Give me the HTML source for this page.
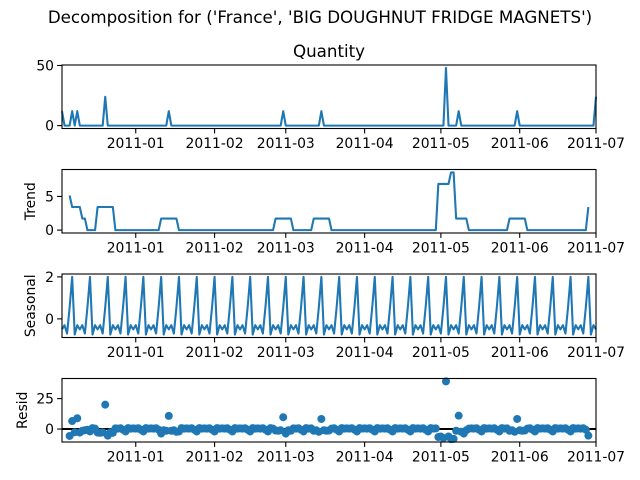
<!DOCTYPE html>
<html><head><meta charset="utf-8"><style>
html,body{margin:0;padding:0;background:#fff;}
svg{display:block;font-family:"DejaVu Sans","Liberation Sans",sans-serif;}
</style></head><body>
<svg id="chart" width="640" height="480" viewBox="0 0 640 480" xmlns="http://www.w3.org/2000/svg">
<text x="320" y="23" font-size="16.7" text-anchor="middle" fill="#000">Decomposition for ('France', 'BIG DOUGHNUT FRIDGE MAGNETS')</text>
<text x="329" y="57" font-size="16.7" text-anchor="middle" fill="#000">Quantity</text>
</svg>
<script>
// ---- data ----
const startDate = "2010-12-03";
const numDays = 211;
const spikeDays = [0, 4, 6, 17, 42, 87, 102, 151, 156, 179, 210];
const spikeValues = [12, 12, 12, 24, 12, 12, 12, 48, 12, 12, 24];
const seasonalPattern = [-0.5, -0.3, -0.7, 0.55, 2.0, -0.75, -0.3];
const monthTickDays = [29, 60, 88, 119, 149, 180, 210];
const monthTickLabels = ["2011-01","2011-02","2011-03","2011-04","2011-05","2011-06","2011-07"];
const panelNames = ["quantity","trend","seasonal","resid"];
const panelYLabels = ["", "Trend", "Seasonal", "Resid"];
const panelYTicks = [[0,50],[0,5],[0,2],[0,25]];

// ---- derived series (decomposition) ----
const observed = [];
for (let i = 0; i < numDays; i++) observed.push(0);
spikeDays.forEach((d, k) => { observed[d] = spikeValues[k]; });
const trend = observed.map((v, i) => {
  if (i < 3 || i > numDays - 4) return null;
  let s = 0; for (let j = i - 3; j <= i + 3; j++) s += observed[j]; return s / 7;
});
const seasonal = observed.map((v, i) => seasonalPattern[i % 7]);
const resid = observed.map((v, i) => trend[i] === null ? null : v - trend[i] - seasonal[i]);
const seriesList = [observed, trend, seasonal, resid];

// ---- layout ----
const NS = "http://www.w3.org/2000/svg";
const svg = document.getElementById("chart");
const L = 62, R = 596, H = 63.5;
const tops = [65, 169.5, 274, 378.5];
const xScale = d => L + (d / (numDays - 1)) * (R - L);
function mk(tag, attrs, parent) {
  const e = document.createElementNS(NS, tag);
  for (const k in attrs) e.setAttribute(k, attrs[k]);
  (parent || svg).appendChild(e);
  return e;
}

seriesList.forEach((ser, p) => {
  const vals = ser.filter(v => v !== null);
  let mn = Math.min(...vals), mx = Math.max(...vals);
  const m = (mx - mn) * 0.05; mn -= m; mx += m;
  const top = tops[p], bot = top + H;
  const yScale = v => bot - (v - mn) / (mx - mn) * H;
  const g = mk("g", {});
  
  

  if (p === 3) {
    const zl = mk("line", {x1: L, x2: R, y1: yScale(0), y2: yScale(0), stroke: "#000", "stroke-width": 2}, g);
    
    
    ser.forEach((v, i) => {
      if (v === null) return;
      const c = mk("circle", {cx: xScale(i), cy: yScale(v), r: 4, fill: "#1f77b4"}, g);
      
      
    });
  } else {
    let d = "";
    ser.forEach((v, i) => {
      if (v === null) return;
      d += (d ? "L" : "M") + xScale(i).toFixed(2) + "," + yScale(v).toFixed(2);
    });
    const path = mk("path", {d: d, fill: "none", stroke: "#1f77b4", "stroke-width": 2.08, "stroke-linejoin": "round"}, g);
    
    
  }

  const frame = mk("rect", {x: L, y: top, width: R - L, height: H, fill: "none", stroke: "#000", "stroke-width": 1.1}, g);
  
  

  monthTickDays.forEach((td, k) => {
    const x = xScale(td);
    const t = mk("line", {x1: x, x2: x, y1: bot, y2: bot + 4.9, stroke: "#000", "stroke-width": 1.1}, g);
    
    
    const lb = mk("text", {x: x, y: bot + 19.5, "font-size": 13.9, "text-anchor": "middle", fill: "#000"}, g);
    lb.textContent = monthTickLabels[k];
    
    
  });

  panelYTicks[p].forEach(tv => {
    const y = yScale(tv);
    const t = mk("line", {x1: L - 4.9, x2: L, y1: y, y2: y, stroke: "#000", "stroke-width": 1.1}, g);
    
    
    const lb = mk("text", {x: L - 8, y: y + 5, "font-size": 13.9, "text-anchor": "end", fill: "#000"}, g);
    lb.textContent = String(tv);
    
    
  });

  if (panelYLabels[p]) {
    const cy = top + H / 2;
    const yl = mk("text", {x: 0, y: 0, "font-size": 13.9, "text-anchor": "middle", fill: "#000",
      transform: "translate(" + (p === 3 ? 27 : 35) + "," + cy + ") rotate(-90)"}, g);
    yl.textContent = panelYLabels[p];
    
    
  }
});
</script>
</body></html>
